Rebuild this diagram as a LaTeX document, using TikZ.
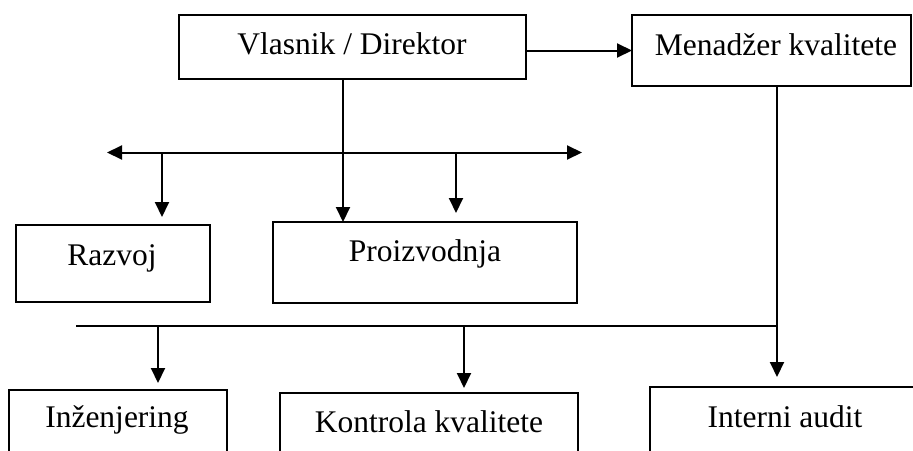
\documentclass[tikz,border=0pt]{standalone}
\usepackage{fontspec}
\setmainfont{Liberation Serif}
\usetikzlibrary{arrows.meta}
\begin{document}
\begin{tikzpicture}[x=1pt,y=-1pt,
  box/.style={draw, line width=1.3pt, inner sep=0pt, outer sep=0pt},
  lbl/.style={font=\fontsize{31.5}{36}\selectfont, inner sep=0pt, anchor=base},
  arr/.style={line width=2pt, -{Triangle[length=15pt,width=14pt]}},
  bus/.style={line width=2pt, {Triangle[length=15pt,width=14pt]}-{Triangle[length=15pt,width=14pt]}},
  ln/.style={line width=1.3pt}]
\useasboundingbox (0,0) rectangle (913,450);
\clip (0,0) rectangle (913,450);
% boxes
\node[box, minimum width=347, minimum height=64] (vd) at (352.5,47) {};
\node[box, minimum width=279, minimum height=71] (mk) at (771.5,50.5) {};
\node[box, minimum width=194, minimum height=77] (rz) at (113,263.5) {};
\node[box, minimum width=304, minimum height=81] (pr) at (425,262.5) {};
\node[box, minimum width=218, minimum height=80] (in) at (118,430) {};
\node[box, minimum width=298, minimum height=77] (kk) at (429,431.5) {};
\node[box, minimum width=280, minimum height=83] (ia) at (790,428.5) {};
% labels
\node[lbl] (tvd) at (352,54) {Vlasnik / Direktor};
\node[lbl] (tmk) at (776,55) {Menadžer kvalitete};
\node[lbl] (trz) at (112,265) {Razvoj};
\node[lbl] (tpr) at (425,261) {Proizvodnja};
\node[lbl] (tin) at (117,427) {Inženjering};
\node[lbl] (tkk) at (429,432) {Kontrola kvalitete};
\node[lbl] (tia) at (785,427) {Interni audit};
% helper coordinates
\coordinate (busL) at (107,152.5);
\coordinate (busR) at (582,152.5);
\coordinate (lbL) at (76,326);
\coordinate (c1) at (162,0);
\coordinate (c2) at (343,0);
\coordinate (c3) at (456,0);
\coordinate (c4) at (158,0);
\coordinate (c5) at (464,0);
\coordinate (c6) at (777,0);
% connectors
\draw[arr] (vd.east |- mk.west) -- (mk.west);
\draw[bus] (busL) -- (busR);
\draw[arr] (vd.south -| c2) -- (pr.north -| c2);
\draw[arr, shorten >=8pt] (busL -| c1) -- (rz.north -| c1);
\draw[arr, shorten >=9pt] (busL -| c3) -- (pr.north -| c3);
\draw[ln] (lbL) -- (lbL -| c6);
\draw[arr, shorten >=7pt] (lbL -| c4) -- (in.north -| c4);
\draw[arr, shorten >=5pt] (lbL -| c5) -- (kk.north -| c5);
\draw[arr, shorten >=10pt] (mk.south -| c6) -- (ia.north -| c6);
\end{tikzpicture}
\end{document}
